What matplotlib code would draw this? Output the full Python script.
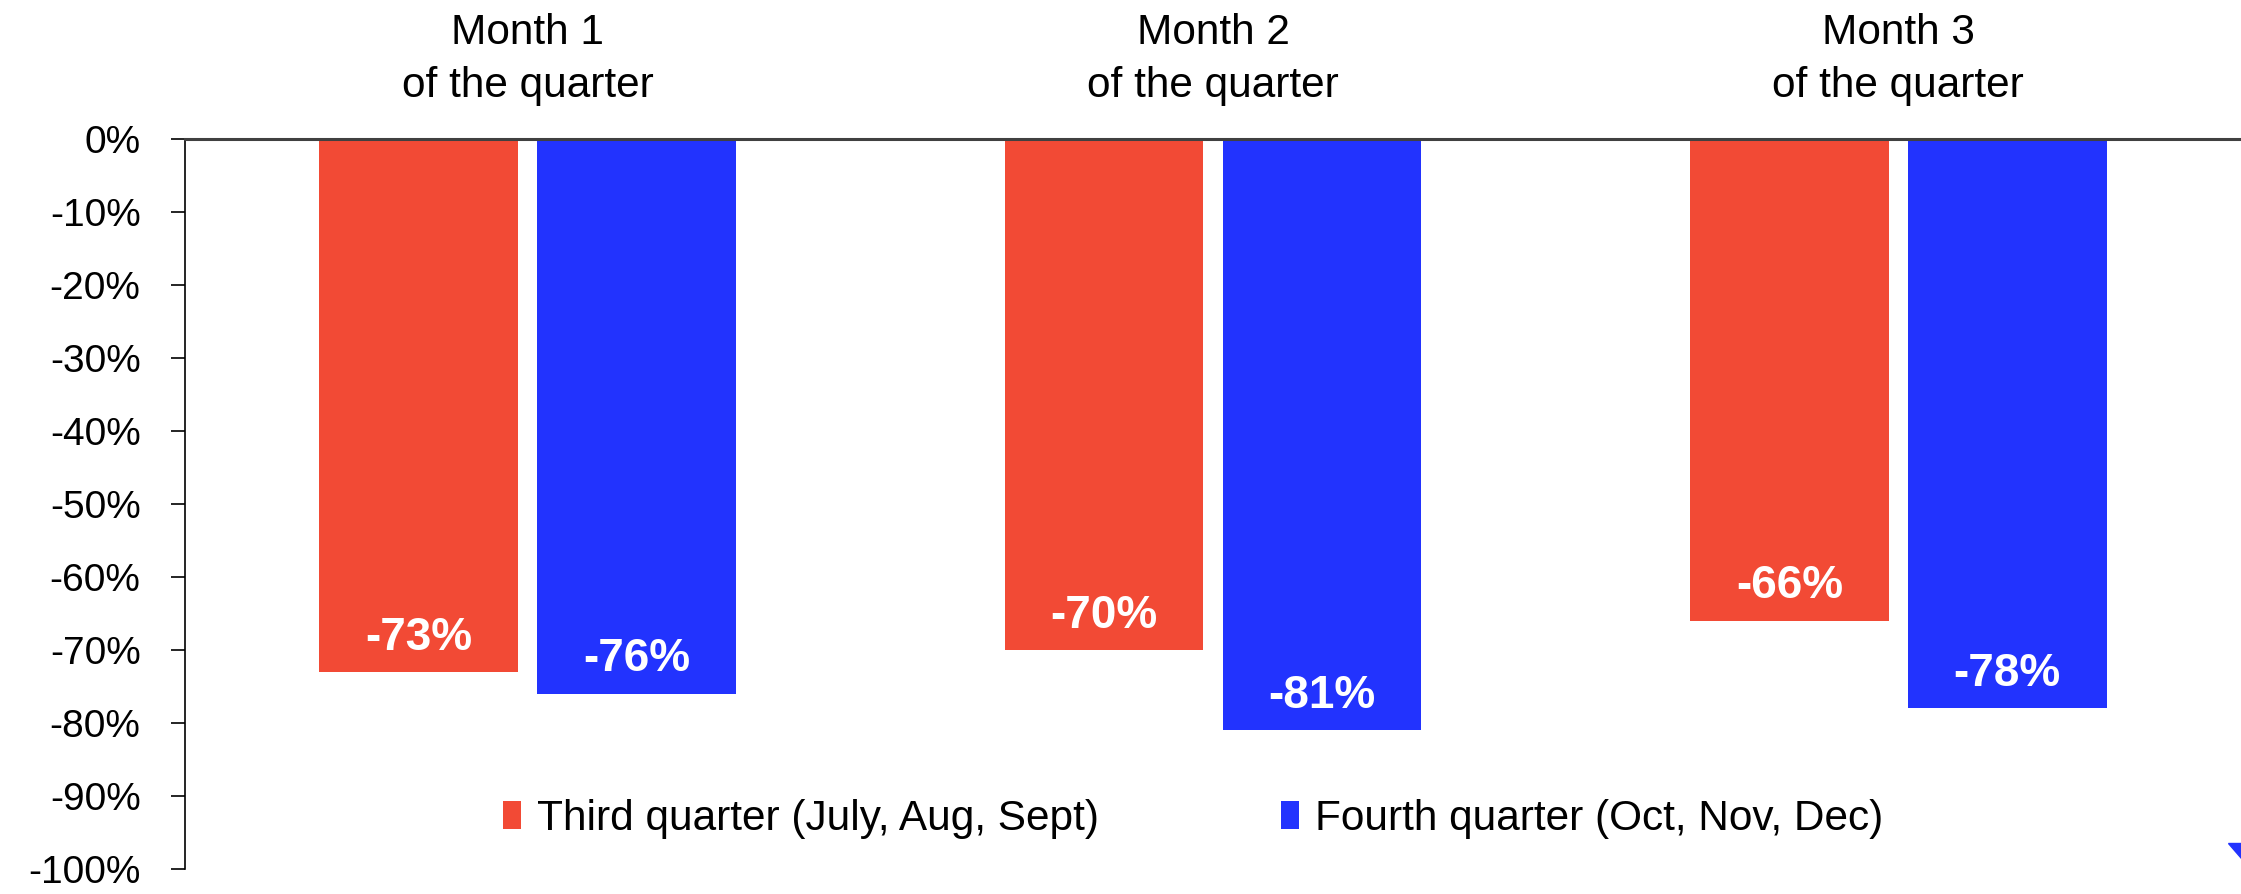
import matplotlib
matplotlib.use("Agg")
import matplotlib.pyplot as plt
from matplotlib.ticker import FuncFormatter, MultipleLocator
from matplotlib.patches import Polygon
import numpy as np

categories = ["Month 1\nof the quarter", "Month 2\nof the quarter", "Month 3\nof the quarter"]
series_names = ["Third quarter (July, Aug, Sept)", "Fourth quarter (Oct, Nov, Dec)"]
q3_values = [-0.73, -0.70, -0.66]
q4_values = [-0.76, -0.81, -0.78]
colors = ["#F24A35", "#2233FE"]

plt.rcParams['font.family'] = ['Liberation Sans', 'DejaVu Sans']

W, H = 2241, 894
fig = plt.figure(figsize=(W / 100, H / 100), dpi=100)
ax = fig.add_axes([185 / W, 25 / H, 1 - 185 / W, (869 - 139) / H])

x = np.arange(len(categories))
bw = 0.29
off = 0.159
ax.bar(x - off, q3_values, bw, color=colors[0], label=series_names[0])
ax.bar(x + off, q4_values, bw, color=colors[1], label=series_names[1])

for xs, vals in ((x - off, q3_values), (x + off, q4_values)):
    for xi, v in zip(xs, vals):
        ax.text(xi, v + 0.047, f"{int(round(v * 100))}%", ha="center", va="center",
                color="white", fontsize=33, fontweight="bold")

ax.set_xlim(-0.5, 2.5)
ax.set_ylim(-1.0, 0.0)
ax.yaxis.set_major_locator(MultipleLocator(0.1))
ax.yaxis.set_major_formatter(FuncFormatter(lambda v, p: f"{int(round(v * 100))}%"))
ax.tick_params(axis="y", labelsize=28, length=10, width=1.2, pad=22, color="black")

ax.xaxis.tick_top()
ax.set_xticks(x)
ax.set_xticklabels(categories, fontsize=30.5, linespacing=1.42)
ax.tick_params(axis="x", length=0, pad=24)

for s in ("bottom", "right"):
    ax.spines[s].set_visible(False)
ax.spines["left"].set_color("black")
ax.spines["left"].set_linewidth(1.2)
ax.spines["top"].set_color("#404040")
ax.spines["top"].set_linewidth(2.2)
ax.spines["top"].set_zorder(5)

fig.legend(loc="center", bbox_to_anchor=(1193 / W, 1 - 819 / H), ncol=2, frameon=False,
           fontsize=30.5, handlelength=0.42, handleheight=0.62, handletextpad=0.38,
           columnspacing=4.3, borderpad=0, borderaxespad=0)

# small cut-off logo mark at bottom right
fig.patches.append(Polygon([[2228 / W, 1 - 843 / H], [1.0, 1 - 843 / H], [1.0, 1 - 858 / H]],
                           closed=True, transform=fig.transFigure, color=colors[1]))

fig.savefig("out.png", dpi=100)
